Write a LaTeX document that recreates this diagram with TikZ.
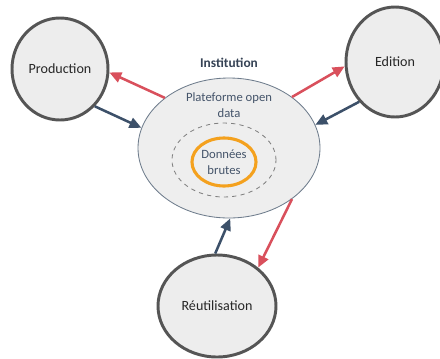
\documentclass[tikz,border=0pt]{standalone}
\usepackage{fontspec}
\setmainfont{Carlito}
\usetikzlibrary{arrows.meta,shapes.geometric}
\definecolor{actor}{HTML}{EDEDED}
\definecolor{actorline}{HTML}{555555}
\definecolor{platfill}{HTML}{EEEEEE}
\definecolor{platline}{HTML}{6E7C8C}
\definecolor{txtblue}{HTML}{44546A}
\definecolor{flowred}{HTML}{D9505C}
\definecolor{flowblue}{HTML}{3C5069}
\definecolor{rawdata}{HTML}{F4A11E}

\begin{document}
\begin{tikzpicture}[x=0.025cm,y=-0.025cm,
  actorbox/.style={draw=actorline,ellipse,line width=2.1pt,fill=actor,inner sep=0pt,font=\fontsize{10}{12}\selectfont,text=black!85},
  flowout/.style={draw=flowred,line width=1.8pt,-{Triangle[length=8.5pt,width=7.5pt]}},
  flowin/.style={draw=flowblue,line width=1.8pt,-{Triangle[length=8.5pt,width=7.5pt]}}]
  \useasboundingbox (0,0) rectangle (440,358);
  % institution and its platform
  \node[draw=platline,ellipse,fill=platfill,line width=0.6pt,minimum width=182*0.025cm,minimum height=140*0.025cm] (plat) at (229,148) {};
  \node[font=\bfseries\fontsize{9.5}{11}\selectfont,text=txtblue!80!black] (inst) at (229,63) {Institution};
  \node[font=\fontsize{9}{11}\selectfont,text=txtblue,align=center] (platlbl) at (229,105) {Plateforme open\\data};
  \node[draw=black!50,dashed,ellipse,line width=0.6pt,minimum width=104*0.025cm,minimum height=74*0.025cm] (open) at (224,160) {};
  \node[draw=rawdata,ellipse,line width=2.2pt,minimum width=64*0.025cm,minimum height=48*0.025cm,font=\fontsize{9}{11}\selectfont,text=txtblue,align=center,inner sep=0pt] (brut) at (224,162) {Données\\brutes};
  % actors
  \node[actorbox,minimum width=96*0.025cm,minimum height=102*0.025cm] (prod) at (60,69) {Production};
  \node[actorbox,minimum width=98*0.025cm,minimum height=110*0.025cm] (edit) at (395,62) {Edition};
  \node[actorbox,minimum width=118*0.025cm,minimum height=102*0.025cm] (reut) at (217,306) {Réutilisation};
  % flows
  \draw[flowout] (plat.142) -- (prod.-4);
  \draw[flowin] (prod.-47) -- (plat.167);
  \draw[flowout] (plat.39) -- (edit.185);
  \draw[flowin] (edit.-132) -- (plat.15);
  \draw[flowin] (reut.92) -- (plat.-89);
  \draw[flowout] (plat.-39) -- (reut.43);
\end{tikzpicture}
\end{document}
